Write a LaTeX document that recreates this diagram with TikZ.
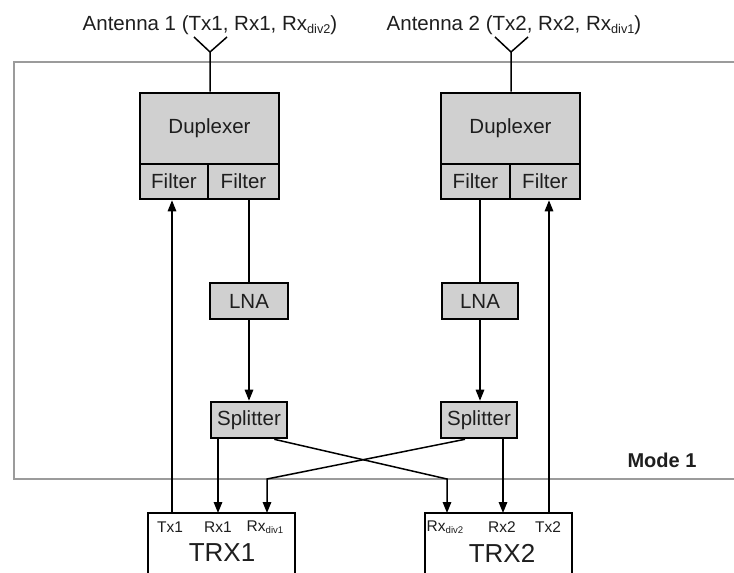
\documentclass[tikz,border=0pt]{standalone}
\usepackage{fontspec}
\setmainfont{Liberation Sans}
\usetikzlibrary{arrows.meta}
\definecolor{boxgray}{RGB}{208,208,208}
\definecolor{modegray}{RGB}{155,155,155}
\definecolor{txt}{RGB}{30,30,30}
\newcommand\subdiv[1]{\raisebox{-0.3ex}{\scalebox{0.62}{#1}}}
\tikzset{
  graybox/.style={draw=black, line width=2.6pt, fill=boxgray, inner sep=0pt, text=txt,
    font=\fontsize{20.5}{22}\selectfont},
  conn/.style={draw=black, line width=1.5pt},
  arr/.style={conn, -{Triangle[length=11pt,width=8.5pt]}},
  modeline/.style={draw=modegray, line width=2.5pt},
  trxbox/.style={draw=black, line width=2.3pt, fill=white},
  portlbl/.style={text=txt, inner sep=0pt, font=\fontsize{15.5}{17}\selectfont},
  trxlbl/.style={text=txt, inner sep=0pt, font=\fontsize{26}{28}\selectfont},
  antlbl/.style={text=txt, inner sep=0pt, font=\fontsize{20.5}{22}\selectfont},
}
\begin{document}
\begin{tikzpicture}[x=1pt,y=-1pt]
\useasboundingbox (0,0) rectangle (734,573);
\clip (0,0) rectangle (734,573);
% mode frame
\draw[modeline] (740,62) -- (14,62) -- (14,479) -- (740,479);
\node[inner sep=0pt, text=txt, font=\bfseries\fontsize{20}{22}\selectfont] (mode) at (662,460) {Mode 1};
% antennas
\node[antlbl] (ant1lbl) at (210,25) {Antenna 1 (Tx1, Rx1, Rx\subdiv{div2})};
\node[antlbl] (ant2lbl) at (514,25) {Antenna 2 (Tx2, Rx2, Rx\subdiv{div1})};
\coordinate (a1) at (210,52);
\coordinate (a1l) at (194,37);
\coordinate (a1r) at (227,37);
\coordinate (a2) at (511,52);
\coordinate (a2l) at (495,37);
\coordinate (a2r) at (528,37);
% duplexers and filters
\node[graybox, minimum width=139pt, minimum height=71pt] (dup1) at (209.5,128.5) {Duplexer};
\node[graybox, minimum width=68pt, minimum height=35pt] (f1a) at (174,181.5) {Filter};
\node[graybox, minimum width=71pt, minimum height=35pt] (f1b) at (243.5,181.5) {Filter};
\node[graybox, minimum width=139pt, minimum height=71pt] (dup2) at (510.5,128.5) {Duplexer};
\node[graybox, minimum width=69pt, minimum height=35pt] (f2a) at (475.5,181.5) {Filter};
\node[graybox, minimum width=70pt, minimum height=35pt] (f2b) at (545,181.5) {Filter};
\draw[conn] (a1l) -- (a1) -- (a1r) (a1) -- (a1 |- dup1.north);
\draw[conn] (a2l) -- (a2) -- (a2r) (a2) -- (a2 |- dup2.north);
% LNAs and splitters
\node[graybox, minimum width=78pt, minimum height=36pt] (lna1) at (249,301) {LNA};
\node[graybox, minimum width=76pt, minimum height=36pt] (lna2) at (480,301) {LNA};
\node[graybox, minimum width=76pt, minimum height=36pt] (spl1) at (249,420) {Splitter};
\node[graybox, minimum width=76pt, minimum height=36pt] (spl2) at (479,420) {Splitter};
% TRX boxes
\draw[trxbox] (148,600) -- (148,513) -- (295,513) -- (295,600);
\draw[trxbox] (425,600) -- (425,513) -- (572,513) -- (572,600);
\coordinate (ptx1) at (172,513);
\coordinate (prx1) at (218,513);
\coordinate (prxd1) at (267,513);
\coordinate (prxd2) at (447,513);
\coordinate (prx2) at (503,513);
\coordinate (ptx2) at (549,513);
\coordinate (x1) at (447,479);
\coordinate (x2) at (267,479);
\node[portlbl] (ltx1) at (170,527) {Tx1};
\node[portlbl] (lrx1) at (218,527) {Rx1};
\node[portlbl] (lrxd1) at (265,527) {Rx\subdiv{div1}};
\node[trxlbl] (trx1) at (222,553) {TRX1};
\node[portlbl] (lrxd2) at (445,527) {Rx\subdiv{div2}};
\node[portlbl] (lrx2) at (502,527) {Rx2};
\node[portlbl] (ltx2) at (548,527) {Tx2};
\node[trxlbl] (trx2) at (502,553) {TRX2};
% connectors
\draw[arr] (ptx1) -- (ptx1 |- f1a.south);
\draw[arr] (ptx2) -- (ptx2 |- f2b.south);
\draw[conn] (lna1.north |- f1b.south) -- (lna1.north);
\draw[conn] (lna2.north |- f2a.south) -- (lna2.north);
\draw[arr] (lna1) -- (spl1);
\draw[arr] (lna2.south) -- (lna2.south |- spl2.north);
\draw[arr] (prx1 |- spl1.south) -- (prx1);
\draw[arr] (prx2 |- spl2.south) -- (prx2);
\draw[arr] ([xshift=-14pt]spl1.south east) -- (x1) -- (prxd2);
\draw[arr] ([xshift=-14pt]spl2.south) -- (x2) -- (prxd1);
\end{tikzpicture}
\end{document}
